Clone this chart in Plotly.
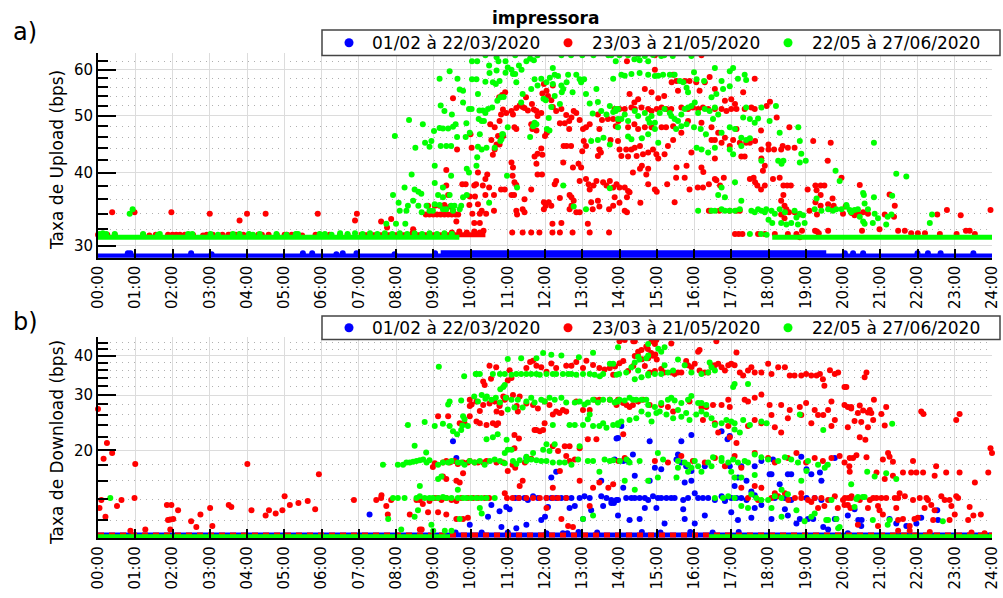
import math
import plotly.graph_objects as go

# ---------------------------------------------------------------- data
HOURS = list(range(25))
HOUR_LABELS = [f"{h:02d}:00" for h in HOURS]
SERIES_NAMES = ["01/02 à 22/03/2020", "23/03 à 21/05/2020", "22/05 à 27/06/2020"]
SERIES_COLORS = ["#0000ff", "#ff0000", "#00ff00"]

UP_TICKS = [30, 40, 50, 60]
UP_MINOR = [32, 34, 36, 38, 42, 44, 46, 48, 52, 54, 56, 58, 62, 64]
UP_RANGE = [28.6, 64.0]
DN_TICKS = [20, 30, 40]
DN_MINOR = [12, 14, 16, 18, 22, 24, 26, 28, 32, 34, 36, 38, 42, 44, 46]
DN_RANGE = [10.5, 46.0]

# dense runs of samples at a constant rate: (start hour, end hour, bps)
up_blue_runs = [(0.0, 24.0, 28.8), (9.2, 19.55, 29.15)]
up_red_runs = [(7.0, 10.4, 31.3)]
up_green_runs = [(0.0, 9.7, 31.0), (18.1, 24.0, 31.0)]
dn_blue_runs = [(0.0, 24.0, 10.75)]
dn_red_runs = [(0.0, 24.0, 10.75)]
dn_green_runs = [(0.0, 9.45, 10.62), (16.4, 24.0, 10.62)]

# individual samples: (hour, bps)
up_blue = [
    (0.8, 29.1), (0.87, 29.1), (2.5, 29.1), (3.05, 29.0), (5.5, 29.1), (5.75, 29.1),
    (6.4, 29.0), (6.57, 29.1), (6.94, 29.1), (7.96, 29.0), (9.05, 29.1), (20.05, 29.1),
    (20.27, 29.1), (20.54, 29.1), (22.0, 29.1), (22.28, 29.1), (22.62, 29.1), (23.5, 29.1),
]

up_red = [
    (0.0, 31.3), (0.25, 31.3), (0.45, 31.3), (1.21, 31.3), (1.38, 31.2), (1.55, 31.3),
    (1.88, 31.3), (2.0, 31.3), (2.1, 31.3), (2.2, 31.3), (2.33, 31.3), (2.45, 31.3),
    (2.55, 31.3), (2.82, 31.2), (2.92, 31.3), (3.08, 31.3), (3.34, 31.3), (3.5, 31.3),
    (3.55, 31.3), (3.62, 31.3), (3.7, 31.3), (3.78, 31.3), (3.9, 31.3), (4.07, 31.3),
    (4.3, 31.3), (4.4, 31.3), (4.58, 31.3), (4.8, 31.3), (5.01, 31.3), (5.07, 31.3),
    (5.2, 31.3), (5.3, 31.3), (5.48, 31.2), (5.84, 31.3), (5.97, 31.3), (6.08, 31.3),
    (6.22, 31.3), (6.5, 31.3), (6.7, 31.3),
    (0.38, 34.2), (0.98, 34.2), (1.97, 34.2), (3.0, 34.0), (3.8, 33.1), (4.0, 34.0),
    (4.5, 34.0), (5.9, 34.0), (6.9, 33.1), (6.95, 34.0),
    (9.5, 31.6), (9.7, 31.7), (9.9, 31.6), (10.1, 31.7), (10.25, 31.6), (10.35, 31.8),
    (7.6, 33.0), (7.87, 33.3), (7.76, 32.2), (8.46, 32.0), (8.44, 31.5),
    (8.86, 35.1), (9.04, 35.1), (9.17, 35.1), (9.3, 35.2), (9.45, 35.0),
    (8.8, 33.9), (8.9, 33.9), (9.0, 33.9), (9.1, 33.9), (9.2, 33.9), (9.3, 33.9),
    (9.4, 33.9), (9.5, 33.9), (9.6, 33.9), (9.67, 33.9),
    (9.35, 38.0), (9.4, 36.6), (9.35, 40.4), (9.53, 53.6), (9.64, 43.8), (9.53, 34.4),
    (9.62, 33.0), (9.78, 38.2), (9.87, 38.2), (10.0, 46.5), (10.03, 44.1), (10.1, 38.0),
    (10.15, 38.2), (9.98, 36.4), (10.12, 36.4), (9.97, 35.2), (10.2, 35.3), (10.05, 34.0),
    (10.25, 34.0), (10.42, 34.0), (10.3, 34.4), (10.1, 32.8), (10.25, 32.8),
    (10.2, 40.0), (10.4, 39.0), (10.45, 39.7), (10.5, 37.7), (10.33, 38.0), (10.63, 34.4),
    (10.63, 36.6), (10.4, 36.6), (10.56, 45.5), (10.7, 44.7), (10.78, 44.7), (10.6, 42.9),
    (10.65, 43.8), (10.53, 48.4), (10.65, 47.8), (10.78, 49.0), (10.74, 46.2), (10.88, 46.2),
    (10.82, 50.3), (10.87, 51.3), (10.96, 50.6), (10.93, 54.9), (10.77, 53.8), (10.85, 54.3),
    (11.1, 51.0), (11.14, 50.3), (11.18, 47.8), (11.23, 47.5), (11.23, 51.6), (11.32, 52.1),
    (11.4, 51.8), (11.49, 53.8), (11.45, 51.6), (11.54, 51.1), (11.65, 52.4), (11.7, 51.3),
    (11.77, 51.0), (11.9, 50.6), (11.8, 50.0), (11.63, 48.4), (11.66, 47.5), (11.77, 47.2),
    (12.0, 46.2), (12.05, 46.8),
    (12.21, 56.4), (12.04, 55.2), (11.97, 56.7), (11.93, 54.6), (12.08, 54.1), (12.17, 53.2),
    (12.21, 51.8), (12.3, 51.0), (12.44, 51.4), (12.57, 50.2), (12.4, 48.6), (12.53, 48.6),
    (12.65, 49.0), (12.71, 49.7), (12.65, 47.5), (12.77, 51.0), (12.84, 50.6), (12.93, 49.2),
    (13.02, 47.5), (13.1, 47.8), (13.2, 48.4), (13.42, 50.3), (13.46, 47.5), (13.53, 49.2),
    (13.69, 49.4), (13.83, 49.4), (13.9, 48.0), (13.76, 45.5), (13.46, 43.8), (13.42, 42.7),
    (13.5, 43.3), (13.04, 45.3), (13.1, 44.4), (13.0, 43.5),
    (11.1, 41.6), (11.14, 40.8), (11.13, 39.5), (11.18, 38.5), (11.23, 38.1), (11.1, 36.6),
    (11.17, 36.6), (10.92, 37.4), (10.82, 37.4),
    (11.4, 34.6), (11.45, 34.2), (11.23, 34.4), (11.25, 33.9), (11.45, 36.0), (11.63, 37.4),
    (11.8, 39.7), (11.77, 41.4), (11.8, 43.1), (11.9, 44.0), (11.93, 42.9), (11.72, 42.6),
    (11.92, 39.7), (11.97, 35.6), (12.02, 35.1), (11.97, 34.6), (12.1, 35.6), (12.17, 35.1),
    (12.2, 32.7), (12.26, 38.2), (12.3, 38.7), (12.4, 36.2), (12.44, 32.8), (12.4, 31.6),
    (12.2, 31.6), (11.85, 31.6), (11.63, 31.6), (11.4, 31.6), (11.12, 31.6), (12.5, 44.4),
    (12.49, 41.6), (12.58, 44.4), (12.7, 44.4), (12.75, 40.8), (12.9, 41.4), (12.97, 40.8),
    (12.93, 38.7), (13.1, 39.0), (13.17, 38.2), (13.3, 38.0), (13.2, 37.4), (13.38, 38.7),
    (13.56, 38.5), (13.65, 38.0), (13.74, 38.7), (13.83, 37.7), (13.92, 38.2), (12.66, 36.6),
    (12.71, 36.3), (12.77, 35.8), (12.71, 35.1), (12.66, 34.6), (12.84, 34.2), (12.93, 34.2),
    (13.24, 35.6), (13.28, 34.6), (13.42, 35.8), (13.46, 35.0), (13.72, 34.6), (13.83, 35.1),
    (13.15, 32.7), (13.2, 31.6), (12.74, 31.6), (13.72, 31.6),
    (13.87, 51.4), (14.0, 51.4), (14.14, 51.4), (14.32, 51.7), (14.41, 51.4), (14.59, 51.7),
    (14.77, 51.4), (14.86, 51.0), (15.0, 51.4), (15.13, 51.7), (15.26, 51.4), (15.39, 51.4),
    (15.66, 51.7), (15.84, 51.4), (15.97, 51.7), (16.11, 51.4), (16.24, 51.7), (16.38, 51.4),
    (16.56, 51.4), (16.74, 51.4), (16.87, 51.0), (17.0, 51.4), (17.14, 51.4), (17.36, 51.4),
    (17.54, 51.7), (17.63, 51.4),
    (14.27, 54.5), (14.4, 52.7), (14.5, 53.4), (14.68, 55.6), (14.86, 54.9), (15.04, 53.6),
    (15.2, 54.1), (15.4, 57.1), (15.44, 58.8), (15.53, 57.4), (15.57, 55.2), (15.75, 57.4),
    (15.88, 57.4), (16.06, 57.1), (16.15, 55.2), (16.29, 57.1), (16.42, 58.3), (16.56, 55.6),
    (16.83, 53.1), (17.0, 53.4), (17.32, 54.9), (17.1, 52.4), (17.63, 57.9), (18.04, 52.9),
    (18.22, 49.7), (17.95, 52.0), (14.95, 60.0), (16.2, 63.5), (14.95, 63.5), (14.2, 62.0),
    (13.97, 49.0), (14.23, 47.8), (14.4, 48.4), (14.5, 47.5), (14.68, 47.8), (14.86, 47.8),
    (15.13, 47.8), (15.25, 47.8), (15.44, 48.0), (15.44, 45.5), (15.66, 46.8), (15.84, 49.0),
    (16.2, 48.7), (16.47, 47.8), (16.65, 46.8), (16.47, 45.5), (16.56, 45.5), (16.74, 45.0),
    (16.83, 45.9), (16.96, 44.4), (17.05, 45.5), (17.14, 47.5), (17.23, 45.0), (17.4, 45.0),
    (17.5, 45.0), (17.64, 45.3), (17.8, 47.2), (17.81, 43.8), (18.0, 44.7), (18.0, 43.8),
    (18.15, 43.8), (18.34, 43.8), (18.38, 44.4), (18.52, 44.1), (18.7, 44.1), (18.56, 47.8),
    (19.2, 45.3), (19.67, 45.0), (19.59, 41.9),
    (13.96, 45.3), (14.0, 43.8), (14.05, 42.7), (14.18, 43.8), (14.23, 42.6), (14.32, 43.8),
    (14.41, 44.1), (14.46, 42.7), (14.55, 44.4), (14.63, 43.0), (14.77, 43.3), (14.9, 43.8),
    (14.99, 43.0), (15.21, 43.0), (15.3, 44.4),
    (14.36, 40.0), (14.55, 40.6), (14.77, 40.6), (14.72, 39.7), (14.6, 41.1), (15.04, 42.3),
    (15.53, 40.8), (15.8, 41.1), (15.75, 39.2), (15.93, 43.3), (16.2, 40.8), (16.25, 40.1),
    (16.56, 42.3), (17.27, 42.6), (17.36, 42.6), (17.81, 42.3), (17.85, 40.3), (17.9, 41.1),
    (17.5, 39.0), (17.6, 39.2), (17.64, 38.5), (17.7, 38.0), (17.8, 37.4), (17.9, 38.0),
    (18.12, 39.0), (18.3, 39.2), (18.4, 38.0), (18.5, 38.0), (18.6, 38.0), (18.4, 36.6),
    (18.34, 35.8), (18.43, 35.1), (18.48, 34.6), (18.55, 34.2), (18.34, 33.9), (18.43, 33.4),
    (18.7, 34.2), (18.83, 33.9), (19.05, 37.4), (19.26, 38.0), (19.4, 38.0), (19.5, 38.0),
    (19.4, 36.6), (19.26, 35.6), (19.4, 35.1), (19.6, 35.3), (19.75, 35.1), (19.66, 34.6),
    (20.0, 34.0), (20.28, 34.2), (19.1, 34.4), (19.3, 33.9), (19.6, 31.8), (19.25, 31.8),
    (18.9, 31.8), (19.29, 37.3), (19.72, 36.1), (19.96, 39.2), (20.07, 35.0), (20.23, 34.1),
    (14.0, 37.7), (14.14, 37.7), (14.23, 37.2), (14.27, 37.0), (14.2, 36.3), (13.87, 36.3),
    (14.0, 35.5), (14.14, 34.4), (14.2, 34.2), (14.56, 35.5), (14.77, 38.2), (14.95, 37.4),
    (15.0, 37.1), (15.28, 38.2), (15.52, 39.2), (15.48, 35.6), (15.88, 37.4), (16.1, 37.7),
    (16.24, 37.7), (16.4, 38.2), (16.56, 39.0), (16.6, 38.8), (16.7, 38.0), (16.8, 39.2),
    (16.4, 34.4), (16.45, 34.4), (16.68, 34.4), (16.96, 34.4), (17.14, 34.4), (17.23, 34.4),
    (17.1, 31.4), (17.2, 31.4), (17.3, 31.4), (17.72, 31.4), (17.9, 31.4), (18.17, 31.4),
    (18.52, 31.4), (18.75, 31.4), (18.84, 31.0), (19.3, 31.7), (19.35, 31.5),
    (20.45, 38.1), (20.22, 34.2), (20.31, 33.8), (20.4, 34.0), (20.54, 34.2), (20.67, 34.0),
    (20.51, 31.8), (20.98, 32.0), (21.12, 33.9), (21.25, 36.7), (21.39, 35.1), (21.37, 33.6),
    (21.48, 31.8), (21.66, 31.8), (21.83, 31.5), (22.01, 31.5), (22.2, 31.5), (22.6, 31.4),
    (23.05, 31.4), (23.3, 31.8), (23.4, 31.8), (23.54, 31.4), (22.53, 33.9), (22.79, 34.5),
    (23.16, 33.8), (23.96, 34.5),
]

up_green = [
    (0.04, 31.4), (0.13, 31.5), (0.22, 31.4), (0.45, 31.4), (1.21, 31.4), (1.61, 31.3),
    (1.66, 31.4), (2.42, 31.4), (2.53, 31.4), (3.02, 31.4), (3.22, 31.3), (3.62, 31.4),
    (3.8, 31.4), (4.05, 31.4), (4.16, 31.3), (4.34, 31.4), (4.79, 31.4), (5.06, 31.3),
    (5.31, 31.4), (5.37, 31.4), (5.95, 31.4), (6.09, 31.4), (6.27, 31.3),
    (0.85, 34.0), (0.93, 34.6),
    (6.5, 31.5), (6.7, 31.4), (6.9, 31.5), (7.1, 31.4), (7.3, 31.5), (7.5, 31.4),
    (7.7, 31.5), (7.9, 31.4), (8.1, 31.5), (8.3, 31.4), (8.5, 31.5), (8.7, 31.4),
    (8.9, 31.5), (9.1, 31.4), (9.3, 31.5), (9.5, 31.4),
    (7.97, 46.2), (8.35, 49.2), (8.72, 48.4), (8.52, 44.1), (8.78, 45.0), (8.95, 45.3),
    (8.9, 44.3), (8.42, 39.7), (8.23, 37.7), (7.92, 36.6), (8.5, 37.4), (8.6, 37.1),
    (8.68, 36.8),
    (8.07, 35.5), (8.32, 35.1), (8.1, 34.4), (8.28, 34.4), (8.46, 35.8), (8.6, 35.1),
    (8.69, 34.2), (8.82, 35.1), (8.9, 34.4), (8.99, 34.4), (9.04, 35.3), (9.17, 35.2),
    (9.26, 34.6), (9.35, 34.6), (9.48, 35.1), (9.57, 35.1), (9.71, 34.6), (9.75, 35.1),
    (9.53, 34.4), (9.44, 36.6), (9.26, 36.3), (9.13, 36.6),
    (7.74, 32.7), (8.0, 32.7), (8.25, 32.7),
    (9.04, 38.4), (9.04, 41.1), (9.02, 47.1), (9.17, 47.7), (9.26, 47.6), (9.4, 47.6),
    (9.53, 47.9), (9.6, 48.4), (9.64, 46.0), (9.2, 52.1), (9.2, 44.4), (9.35, 44.4),
    (9.48, 44.4),
    (9.44, 59.6), (9.17, 57.9), (9.65, 57.9), (9.71, 55.5), (9.8, 55.2), (9.8, 52.7),
    (9.3, 51.0), (9.5, 50.3),
    (9.89, 48.6), (9.98, 46.8), (9.87, 46.0), (9.9, 40.6), (9.96, 40.0), (9.48, 39.5),
    (9.26, 37.7), (9.8, 36.3), (9.9, 36.6),
    (9.96, 51.4), (10.03, 51.4), (10.2, 54.5), (10.04, 57.8), (10.16, 57.8), (10.04, 62.0),
    (10.18, 62.0), (10.4, 57.2), (10.51, 59.2), (10.7, 59.8), (10.5, 61.0), (10.7, 63.0),
    (10.4, 63.5), (10.75, 62.0), (10.94, 62.0), (10.94, 59.3), (11.1, 60.0), (11.2, 59.0),
    (11.37, 60.0), (11.23, 57.1), (11.0, 60.5),
    (10.22, 49.4), (10.3, 49.0), (10.36, 49.0), (10.24, 51.1), (10.33, 51.1), (10.47, 51.4),
    (10.4, 50.6), (10.58, 51.7), (10.72, 53.1), (10.8, 53.8), (10.89, 53.9), (10.68, 56.7),
    (10.6, 57.1), (10.78, 57.4),
    (10.25, 46.5), (10.3, 43.8), (10.18, 42.5), (10.2, 44.3), (10.16, 41.1), (10.43, 44.1),
    (10.65, 44.1), (10.8, 45.3), (10.85, 46.5), (10.83, 45.6), (11.0, 47.8), (10.98, 39.5),
    (11.25, 37.7), (10.5, 35.5),
    (11.4, 54.5), (11.36, 52.7), (11.63, 55.6), (11.72, 57.8), (11.8, 56.4), (11.9, 57.9),
    (12.04, 57.1), (12.13, 58.1), (12.21, 56.7), (12.21, 60.4), (12.26, 58.8), (12.35, 58.5),
    (12.44, 56.4), (12.49, 55.6), (12.58, 57.1), (12.62, 58.8), (12.74, 54.9), (12.84, 58.8),
    (12.93, 57.8), (12.97, 57.1), (13.05, 57.8), (13.1, 54.5), (13.38, 55.6), (13.2, 52.5),
    (13.28, 50.5), (13.42, 52.8), (13.51, 51.0), (13.65, 50.3), (13.74, 52.0), (13.83, 50.8),
    (13.9, 51.0), (13.83, 57.9), (13.78, 63.5), (13.7, 63.5), (13.0, 63.5), (13.3, 63.5),
    (12.7, 63.5), (12.44, 63.5), (11.8, 63.5), (11.7, 62.3), (11.6, 62.7), (11.5, 62.0),
    (11.2, 63.5), (11.14, 59.0), (11.3, 61.0),
    (12.02, 53.2), (11.96, 53.5), (12.17, 51.8), (12.26, 54.1), (12.4, 52.4), (12.45, 54.9),
    (12.1, 49.6), (12.05, 47.5), (12.12, 47.2), (11.77, 48.4), (11.68, 48.0), (11.72, 48.7),
    (11.6, 46.0), (10.87, 46.5),
    (12.49, 38.0), (12.77, 35.0), (13.1, 34.6), (13.74, 37.6), (13.24, 45.3), (13.42, 45.5),
    (13.57, 45.9), (13.74, 44.7), (13.96, 47.8), (13.96, 49.4), (13.9, 51.4),
    (14.0, 63.5), (14.23, 63.5), (14.5, 63.6), (14.68, 63.3), (14.9, 63.6), (15.12, 63.3),
    (15.2, 63.5), (15.43, 63.3), (15.93, 63.3), (13.9, 62.0), (14.4, 62.5), (14.77, 62.0),
    (14.54, 62.3),
    (14.05, 58.8), (14.14, 58.6), (14.32, 59.0), (14.54, 59.2), (14.77, 58.8), (14.95, 58.5),
    (15.04, 58.6), (15.17, 58.8), (15.35, 58.8), (15.48, 58.8), (15.62, 57.4), (15.71, 57.1),
    (15.8, 55.9), (15.84, 54.9), (16.0, 59.4), (16.07, 57.8), (16.27, 57.4), (16.56, 60.4),
    (16.96, 59.6), (17.05, 60.4), (17.18, 57.9), (17.36, 58.8), (17.4, 57.6), (16.74, 57.4),
    (16.96, 56.2), (16.78, 55.6), (16.6, 54.5), (16.47, 53.8),
    (13.96, 51.4), (14.05, 49.4), (14.23, 49.0), (14.14, 50.3), (14.41, 51.0), (14.5, 50.0),
    (14.68, 50.6), (14.77, 49.4), (14.86, 50.0), (14.95, 48.7), (15.08, 50.6), (15.21, 51.4),
    (15.35, 50.6), (15.39, 50.0), (15.48, 49.4), (15.57, 49.0), (15.66, 50.3), (15.75, 51.4),
    (15.84, 51.7), (15.93, 52.0), (16.02, 52.7), (16.11, 50.6), (16.29, 51.4), (16.42, 51.0),
    (16.56, 51.7), (16.51, 49.4), (16.65, 50.3),
    (14.23, 46.1), (14.32, 45.6), (14.6, 45.8), (14.77, 46.5), (15.04, 45.0), (14.95, 47.5),
    (14.81, 48.7), (15.52, 47.5), (15.66, 48.0), (15.8, 48.4), (16.0, 47.8), (16.18, 47.5),
    (16.32, 46.5), (16.07, 44.1), (16.2, 43.8), (16.38, 43.3), (16.56, 44.1), (16.74, 46.8),
    (16.96, 47.8), (17.1, 47.5), (17.27, 45.9), (17.4, 45.5), (17.5, 45.8), (16.96, 43.8),
    (17.05, 43.0), (17.27, 44.4), (17.63, 48.7), (17.72, 49.5), (17.81, 51.7), (17.32, 49.7),
    (17.4, 51.7), (17.5, 49.4), (18.03, 49.0), (18.2, 52.0), (17.81, 41.9), (18.26, 41.9),
    (18.3, 46.8), (18.84, 45.3), (18.8, 47.8), (18.88, 43.1), (19.0, 41.9), (18.4, 41.9),
    (18.84, 41.6), (18.35, 41.4), (19.8, 40.3), (19.91, 38.7), (20.56, 36.6), (19.29, 36.1),
    (17.1, 38.5), (16.74, 37.7), (16.83, 36.3), (17.27, 35.8), (16.65, 36.6),
    (16.11, 34.4), (16.47, 34.4), (16.56, 34.4), (16.74, 34.6), (16.83, 34.4), (16.96, 34.4),
    (17.1, 34.4), (17.23, 34.6), (17.54, 34.4), (17.63, 34.2), (17.72, 34.6), (17.81, 34.4),
    (17.9, 34.2), (17.94, 34.6), (18.08, 34.4), (18.17, 34.0), (18.3, 34.6), (18.44, 34.2),
    (18.7, 34.4), (18.84, 34.0), (18.93, 33.8), (19.24, 34.6), (19.42, 34.4), (19.6, 34.6),
    (19.73, 34.4), (19.82, 34.6), (19.96, 34.6), (20.1, 35.0), (20.22, 34.2),
    (18.0, 33.2), (18.1, 32.8), (18.34, 32.8), (18.48, 32.6), (18.61, 32.8), (18.79, 32.6),
    (18.97, 32.8), (18.75, 33.5),
    (17.5, 31.4), (17.8, 31.4), (17.95, 31.3),
    (20.09, 35.2), (20.18, 34.5), (20.31, 34.5), (20.4, 34.6), (20.67, 34.6), (20.58, 35.4),
    (20.54, 36.9), (20.83, 36.3), (20.83, 45.0), (20.45, 33.6), (20.54, 33.0), (20.58, 32.7),
    (20.8, 32.8), (20.85, 34.0), (20.94, 33.4), (21.16, 32.6), (21.2, 33.6), (21.3, 33.9),
    (21.32, 36.5), (21.43, 39.8), (21.7, 39.4), (22.33, 32.8), (22.39, 33.9),
]

dn_blue = [
    (7.29, 12.5), (9.53, 21.4), (9.62, 18.9), (11.5, 18.9), (12.17, 16.4), (12.3, 17.1),
    (13.51, 16.0), (13.92, 21.8),
    (11.2, 14.1), (11.3, 14.1), (11.45, 14.1), (11.54, 13.9), (11.68, 14.3), (11.81, 14.1),
    (12.04, 14.1), (12.17, 14.1), (12.3, 14.1), (12.44, 14.1), (12.57, 14.1), (12.71, 14.1),
    (12.93, 14.1), (13.06, 14.3), (13.2, 14.1), (13.51, 14.3), (13.65, 14.1), (13.78, 13.9),
    (13.92, 13.9),
    (10.96, 13.2), (10.56, 13.4), (10.78, 12.8), (11.05, 13.0), (11.23, 11.3), (10.83, 11.4),
    (10.47, 12.3), (9.98, 11.6), (11.9, 12.0), (12.0, 12.3), (12.08, 13.2), (12.66, 13.1),
    (12.8, 13.3), (13.02, 12.1), (13.24, 12.9), (13.56, 13.3), (13.78, 13.6), (13.85, 13.6),
    (11.5, 11.6), (12.48, 10.9), (12.6, 10.9), (12.04, 10.9),
    (14.05, 23.9), (13.96, 21.9), (14.81, 21.4), (15.66, 21.4), (15.93, 22.4), (16.74, 23.0),
    (16.96, 22.2), (16.9, 21.7), (13.87, 18.7), (14.23, 18.5), (14.36, 19.4), (14.1, 18.5),
    (14.95, 17.6), (15.12, 17.4), (15.53, 18.7), (15.57, 19.4), (15.66, 18.3), (15.79, 17.8),
    (15.93, 17.2), (16.29, 17.8), (16.96, 17.8), (17.27, 17.8), (17.63, 17.8), (17.81, 18.5),
    (18.08, 16.8), (18.12, 18.7), (18.88, 19.1), (19.02, 17.4), (19.15, 16.8), (19.78, 18.9),
    (14.41, 16.6), (14.1, 15.2), (14.81, 16.0), (15.75, 15.8), (15.93, 16.0), (17.18, 16.4),
    (17.09, 15.4), (17.41, 16.0), (17.54, 14.8), (18.03, 16.8), (18.3, 15.6), (18.52, 16.8),
    (18.61, 16.8), (19.38, 17.0), (19.42, 16.0),
    (13.96, 13.9), (14.18, 14.1), (14.32, 14.1), (14.41, 14.1), (14.54, 14.1), (14.68, 14.1),
    (14.77, 13.9), (14.9, 14.3), (15.03, 14.1), (15.12, 14.1), (15.26, 14.1), (15.39, 14.1),
    (15.48, 14.1), (15.71, 13.9), (15.84, 14.1), (16.02, 14.6), (16.11, 14.1), (16.24, 14.1),
    (16.38, 14.1), (16.56, 13.9), (16.74, 14.3), (16.83, 13.9), (17.0, 14.1), (17.14, 14.1),
    (17.27, 14.1), (17.41, 13.9), (17.63, 14.4), (18.17, 14.1), (18.44, 14.1), (18.61, 13.9),
    (19.02, 14.1), (19.24, 14.1), (19.42, 13.9),
    (13.96, 12.4), (14.27, 12.0), (14.54, 12.1), (14.68, 13.1), (14.99, 13.1), (15.21, 11.7),
    (15.71, 13.0), (15.75, 12.1), (16.02, 11.7), (16.29, 12.4), (16.83, 13.8), (17.0, 12.7),
    (17.18, 12.0), (17.54, 12.2), (17.63, 13.1), (17.81, 13.4), (18.08, 12.1), (18.44, 13.0),
    (18.52, 12.4), (18.75, 11.7), (18.84, 12.1), (19.06, 12.1), (19.2, 12.1), (19.47, 11.4),
    (19.6, 11.2), (19.78, 12.1), (19.82, 12.1), (20.13, 12.4),
    (20.31, 13.0), (20.41, 12.0), (20.5, 12.0), (20.49, 11.5), (21.25, 12.1), (21.43, 11.7),
    (21.7, 11.5), (21.97, 11.7), (22.1, 12.2), (22.53, 12.9), (22.55, 12.0), (20.13, 10.9),
    (9.6, 10.95), (10.3, 10.95), (11.0, 10.95), (12.9, 11.0), (13.4, 10.95), (14.6, 11.0),
    (15.1, 10.95), (15.9, 11.0), (16.5, 10.95), (17.2, 11.0),
]

dn_red = [
    (0.0, 27.1), (0.04, 13.1), (0.09, 13.9), (0.15, 18.8), (0.24, 21.1), (0.38, 19.6),
    (0.2, 12.3), (0.51, 13.3), (0.63, 13.9), (0.87, 11.1), (0.98, 14.1), (1.0, 18.1),
    (1.27, 11.2), (1.85, 13.4), (1.88, 12.0), (1.94, 12.05), (1.97, 13.4), (2.02, 12.1),
    (1.94, 11.2), (2.15, 12.9), (2.5, 11.9), (2.64, 11.4), (2.75, 12.5), (3.01, 13.1),
    (3.07, 11.5), (3.51, 13.4), (3.58, 13.2), (4.01, 18.1), (4.12, 12.9), (4.5, 12.4),
    (4.59, 12.9), (4.77, 12.6), (4.95, 12.9), (5.01, 14.3), (5.15, 13.4), (5.38, 13.6),
    (5.63, 13.8), (5.83, 13.0), (5.93, 16.8), (6.87, 13.9), (7.47, 13.9), (7.61, 14.4),
    (7.6, 14.1), (7.87, 13.9), (7.74, 13.3), (7.78, 12.5), (8.37, 12.5),
    (8.55, 13.9), (8.64, 13.9), (8.72, 13.5), (8.9, 13.8), (9.04, 14.1), (9.13, 14.1),
    (9.22, 13.9), (9.35, 14.1), (9.49, 13.9), (9.62, 13.8), (9.75, 14.1), (9.93, 14.1),
    (10.07, 14.1), (10.2, 14.1), (10.38, 14.1), (10.5, 14.1), (11.13, 14.1), (11.3, 14.1),
    (11.5, 14.1), (11.68, 14.1), (11.86, 14.1), (12.04, 14.1), (12.21, 14.1), (12.35, 14.1),
    (12.57, 14.1),
    (8.86, 12.7), (9.13, 12.7), (9.35, 12.5), (9.62, 12.1), (9.8, 12.1), (9.93, 12.2),
    (8.64, 11.2), (8.69, 11.2), (8.99, 17.7), (9.13, 25.7), (9.4, 25.7),
    (9.04, 18.2), (9.26, 18.3), (9.35, 18.5), (9.44, 18.3), (9.57, 18.5), (9.66, 18.1),
    (9.8, 18.3), (9.93, 18.3), (9.98, 18.5), (10.11, 18.3), (10.2, 18.3), (10.34, 18.3),
    (10.43, 18.5),
    (9.26, 16.5), (9.35, 16.2), (9.62, 16.0), (9.71, 15.8), (9.8, 16.9), (9.98, 27.7),
    (10.03, 28.0), (10.25, 26.7), (10.34, 33.1), (10.38, 32.3), (10.51, 37.2), (10.69, 36.8),
    (10.55, 33.8), (10.78, 27.7), (10.7, 26.6), (10.74, 24.4), (10.83, 26.3), (10.88, 29.7),
    (10.92, 29.0), (11.0, 33.4), (11.1, 34.0), (11.05, 36.0), (11.24, 27.7), (11.27, 26.6),
    (11.18, 22.4), (11.18, 20.3), (11.3, 21.8), (11.0, 17.2), (11.13, 18.0), (11.2, 17.6),
    (11.4, 16.0), (11.32, 15.4), (10.98, 14.1), (10.92, 14.6), (10.88, 18.3), (10.7, 18.3),
    (11.46, 18.3),
    (11.5, 36.6), (11.6, 38.2), (11.68, 38.6), (11.77, 37.2), (11.9, 36.8), (12.04, 35.6),
    (12.17, 37.8), (12.3, 36.6), (12.57, 37.2), (12.71, 37.2), (12.84, 38.2), (13.02, 36.6),
    (13.11, 38.6), (13.29, 37.4), (13.46, 36.6), (13.6, 36.2), (13.74, 36.6), (13.83, 34.8),
    (13.88, 37.0),
    (9.98, 29.0), (10.16, 28.6), (10.34, 27.9), (10.51, 28.2), (10.65, 28.6), (10.78, 27.9),
    (10.96, 29.4), (11.14, 30.0), (11.32, 29.7), (11.5, 28.2), (11.68, 27.9), (11.81, 27.2),
    (11.99, 28.6), (12.12, 27.9), (12.3, 26.6), (12.48, 26.9), (12.57, 26.6), (12.84, 28.6),
    (13.02, 26.9), (13.2, 26.9), (13.33, 29.0), (13.46, 29.0), (13.74, 29.0), (13.92, 27.9),
    (9.71, 24.4), (9.84, 24.4), (9.98, 25.7), (10.16, 24.7), (10.25, 24.4), (10.43, 24.1),
    (10.6, 24.4), (10.69, 24.1), (11.72, 23.2), (11.86, 23.0), (11.99, 24.4), (12.21, 26.0),
    (12.39, 26.3),
    (12.04, 13.1), (12.21, 15.2), (12.4, 17.2), (12.44, 12.1), (12.62, 11.5), (12.75, 11.4),
    (12.93, 16.0), (13.2, 13.3), (13.29, 15.2), (13.46, 15.8), (13.7, 15.2), (13.83, 15.6),
    (11.95, 23.2), (11.77, 23.2), (12.21, 20.6), (12.35, 19.9), (12.53, 20.6), (12.66, 20.6),
    (12.93, 20.3), (12.8, 18.7), (12.66, 18.5), (12.57, 19.2), (13.15, 21.7), (13.38, 21.7),
    (11.63, 18.8),
    (14.0, 44.5), (14.37, 44.5), (14.14, 44.9), (14.41, 44.5), (14.5, 41.2), (14.59, 41.7),
    (14.72, 42.8), (14.86, 44.5), (14.95, 43.6), (14.99, 44.9), (15.39, 43.8), (16.11, 41.2),
    (16.15, 41.7), (16.6, 44.5), (17.14, 41.0), (14.76, 42.0), (14.85, 40.8), (14.9, 40.0),
    (14.96, 40.4), (15.0, 38.9),
    (14.0, 37.9), (14.1, 38.5), (14.23, 35.8), (14.37, 37.1), (14.41, 39.9), (14.5, 39.9),
    (14.6, 39.0), (14.68, 37.1), (14.77, 39.3), (14.81, 35.4), (14.95, 35.8), (15.12, 36.3),
    (15.2, 35.4), (15.39, 35.4), (15.48, 35.0), (15.57, 35.4), (15.66, 35.4), (15.79, 38.5),
    (15.84, 37.3), (15.93, 36.8), (16.02, 37.7), (16.15, 35.9), (16.29, 35.4), (16.38, 35.4),
    (16.47, 37.3), (16.56, 37.3), (16.65, 37.7), (16.74, 36.8), (16.83, 35.9), (16.92, 37.3),
    (17.0, 37.7), (17.09, 37.3), (17.23, 35.4), (17.32, 34.6), (17.45, 35.9), (17.54, 36.8),
    (17.63, 35.4), (17.81, 35.4), (17.99, 37.7), (18.08, 35.0), (18.26, 36.8), (18.44, 36.8),
    (18.57, 34.6), (18.7, 34.6), (18.88, 34.6), (19.01, 35.0), (19.15, 34.6), (19.29, 34.6),
    (19.38, 35.0), (19.46, 33.7), (19.5, 32.1), (19.65, 36.0), (19.78, 35.0), (19.87, 35.4),
    (20.04, 31.8),
    (13.96, 29.0), (14.1, 28.3), (14.19, 27.9), (14.27, 27.5), (14.36, 27.9), (14.5, 28.6),
    (14.63, 29.0), (14.81, 27.9), (15.12, 27.9), (15.3, 27.5), (15.44, 26.6), (15.88, 28.6),
    (16.2, 27.5), (16.33, 27.5), (16.51, 27.9), (16.74, 27.9), (16.92, 29.0), (16.96, 27.5),
    (17.36, 29.0), (17.45, 28.6), (17.63, 29.4), (17.81, 30.1), (18.03, 27.9), (18.34, 27.9),
    (18.57, 26.9), (18.84, 27.5), (19.01, 28.3), (19.24, 26.9), (19.33, 25.9), (19.6, 26.9),
    (19.69, 28.6), (20.04, 27.9), (20.22, 27.5),
    (16.24, 25.0), (16.56, 24.4), (16.65, 22.8), (16.92, 23.9), (16.96, 22.0), (17.14, 21.1),
    (17.45, 23.9), (17.63, 25.0), (17.81, 24.4), (18.08, 25.9), (18.17, 23.7), (18.34, 22.8),
    (18.52, 25.3), (18.88, 25.9), (19.15, 24.4), (19.47, 25.9), (19.69, 23.9), (19.78, 25.0),
    (14.1, 22.5),
    (14.14, 18.9), (14.95, 18.5), (15.3, 18.3), (15.66, 19.2), (15.97, 18.5), (16.29, 18.3),
    (16.56, 18.9), (16.83, 17.8), (17.09, 19.2), (17.27, 17.6), (17.63, 19.6), (17.99, 18.9),
    (18.17, 18.3), (18.52, 18.9), (18.75, 19.6), (19.01, 18.3), (19.24, 18.9), (19.46, 18.5),
    (19.69, 18.9), (19.91, 19.2), (20.04, 18.3), (20.17, 17.8), (13.97, 18.5),
    (17.45, 14.1), (17.72, 13.9), (18.08, 14.1), (18.26, 14.3), (18.53, 13.9), (18.71, 14.1),
    (18.88, 14.1), (19.06, 13.9), (19.24, 14.1), (19.42, 14.1), (19.6, 13.9), (19.78, 14.3),
    (20.0, 13.9), (20.14, 14.1), (20.23, 14.3),
    (17.27, 15.2), (17.63, 15.4), (17.81, 15.2), (18.17, 14.6), (18.44, 14.6), (18.88, 14.6),
    (19.15, 13.7), (19.33, 13.1), (19.5, 13.3), (19.86, 13.1), (20.04, 13.4), (20.2, 13.1),
    (20.09, 31.8), (20.63, 35.4), (20.58, 34.2), (20.83, 29.0),
    (20.13, 27.5), (20.22, 27.2), (20.45, 27.8), (20.54, 26.8), (20.4, 26.3), (20.67, 26.4),
    (20.72, 26.9), (20.76, 26.3), (21.03, 26.1), (21.16, 27.5), (20.81, 25.0), (20.31, 24.8),
    (20.49, 24.6), (21.12, 24.0), (20.13, 23.7), (20.67, 23.7), (22.1, 26.6), (22.16, 26.1),
    (23.04, 25.0), (23.13, 26.1),
    (20.45, 22.0), (20.6, 21.6), (20.18, 18.9), (20.27, 18.9), (20.36, 19.3), (20.63, 19.0),
    (21.07, 18.7), (21.21, 19.6), (21.25, 19.1), (21.34, 18.4), (21.88, 18.5), (22.5, 17.8),
    (22.15, 17.0), (21.97, 17.0), (21.83, 17.0), (21.61, 17.0), (21.34, 16.6), (21.12, 16.2),
    (20.9, 17.0), (20.18, 17.1), (22.46, 16.6), (22.77, 17.0), (23.13, 17.0), (23.54, 15.8),
    (23.9, 17.0), (23.96, 20.3), (24.0, 19.6),
    (23.4, 13.2), (23.5, 12.4), (23.7, 12.5),
    (20.05, 14.1), (20.22, 14.1), (20.45, 13.9), (20.72, 13.9), (20.81, 14.1), (20.9, 14.1),
    (21.03, 14.1), (21.16, 14.1), (21.39, 14.1), (21.48, 14.1), (21.66, 14.3), (21.88, 13.9),
    (22.06, 14.1), (22.24, 14.1), (22.28, 13.9), (22.64, 14.3), (22.73, 13.9), (22.86, 13.9),
    (23.04, 14.3), (23.09, 14.1),
    (20.13, 13.4), (20.67, 13.1), (20.94, 13.3), (20.98, 12.9), (21.07, 12.5), (21.43, 13.1),
    (21.52, 14.6), (22.19, 13.1), (22.37, 13.4), (22.46, 12.9), (22.91, 13.3), (23.0, 12.5),
    (23.36, 12.0), (20.4, 11.6), (20.94, 11.5), (21.48, 12.0), (21.61, 12.1), (21.79, 11.5),
    (21.92, 12.1), (22.01, 12.2), (22.42, 12.0), (22.86, 12.0), (21.48, 11.1), (21.79, 11.1),
    (22.33, 11.0), (23.45, 10.95), (23.8, 10.9),
]

dn_green = [
    (0.33, 14.1),
    (7.65, 18.0), (8.05, 18.0), (8.19, 18.0), (8.28, 18.3), (8.37, 18.3), (8.46, 18.4),
    (8.55, 18.5), (8.64, 18.6), (8.73, 18.7), (8.82, 18.3), (8.9, 18.6), (9.13, 18.0),
    (9.26, 18.3), (9.4, 18.3), (9.49, 18.5), (9.66, 18.3), (9.75, 18.3), (9.84, 18.0),
    (9.98, 18.5), (10.11, 18.3), (10.25, 18.5), (10.38, 18.0), (10.52, 18.5), (10.65, 18.7),
    (10.79, 18.5), (10.92, 18.2), (11.14, 18.5), (11.32, 18.6), (11.5, 18.5), (11.63, 18.7),
    (11.77, 18.6), (11.9, 18.5), (12.04, 18.5), (12.21, 18.3), (12.39, 18.3), (12.53, 18.3),
    (12.71, 18.0), (12.89, 18.7), (13.15, 18.5), (13.29, 18.5), (13.6, 18.7), (13.74, 18.5),
    (8.81, 19.7), (9.13, 16.2), (9.22, 16.5),
    (7.92, 14.1), (8.05, 14.1), (8.23, 14.1), (8.55, 14.1), (8.64, 14.3), (8.77, 14.1),
    (8.9, 14.1), (8.99, 14.1), (9.13, 14.1), (9.26, 14.2), (9.35, 14.1), (9.49, 14.1),
    (9.66, 14.1), (9.8, 14.1), (9.89, 14.1), (10.02, 14.1), (10.16, 14.1), (10.29, 14.1),
    (10.43, 14.1), (10.65, 14.1),
    (8.32, 24.1), (8.5, 20.7), (8.77, 24.6), (9.04, 23.9), (9.15, 36.9), (9.26, 24.3),
    (9.44, 23.9), (9.4, 28.0), (9.44, 28.6), (9.75, 28.8), (9.53, 23.0), (9.64, 22.5),
    (9.75, 23.2), (9.78, 24.0), (9.93, 23.9), (9.84, 25.1), (9.8, 25.7), (9.83, 34.4),
    (10.14, 35.0), (10.25, 35.0), (10.1, 29.7), (10.2, 28.6), (10.3, 30.0), (10.4, 29.2),
    (10.44, 29.7), (10.56, 29.0), (10.68, 29.4), (10.79, 28.4), (10.88, 31.8), (10.92, 32.3),
    (10.8, 31.3), (10.95, 29.4), (11.0, 27.0), (11.1, 29.0), (11.18, 27.4), (11.27, 29.0),
    (11.4, 27.4), (11.5, 28.6), (11.63, 29.4), (11.72, 28.4), (11.9, 29.0), (11.99, 28.6),
    (12.12, 29.4), (12.26, 29.0), (12.44, 29.4), (12.57, 28.4), (12.8, 28.4), (12.93, 28.6),
    (13.06, 28.0), (13.15, 28.4), (13.29, 29.0), (13.42, 28.4), (13.56, 29.0), (13.74, 29.0),
    (13.87, 28.4), (13.96, 28.6),
    (10.16, 35.0), (10.6, 35.0), (10.79, 35.0), (10.92, 35.0), (11.1, 34.8), (11.23, 35.0),
    (11.36, 35.0), (11.5, 35.0), (11.63, 35.0), (11.77, 35.0), (11.86, 34.8), (12.04, 35.0),
    (12.21, 35.0), (12.3, 35.0), (12.48, 35.0), (12.62, 35.0), (12.71, 35.0), (12.84, 34.8),
    (13.02, 35.0), (13.2, 35.0), (13.33, 34.8), (13.47, 34.4), (13.56, 35.0), (13.74, 37.7),
    (13.83, 37.7), (13.92, 34.8),
    (11.95, 40.8), (12.17, 40.3), (12.44, 40.1), (12.91, 39.6), (13.29, 40.9), (11.77, 39.3),
    (11.36, 39.3), (11.0, 39.1),
    (10.43, 21.7), (10.6, 22.0), (10.73, 22.5), (10.92, 19.6), (11.0, 20.1), (11.1, 20.1),
    (10.97, 21.6), (11.23, 18.1), (11.5, 19.1), (11.68, 19.6), (11.95, 20.1), (12.04, 20.9),
    (12.12, 19.9), (12.21, 24.1), (12.26, 20.9), (12.66, 24.1), (12.8, 24.1), (12.93, 20.6),
    (13.02, 24.1), (13.15, 25.1), (13.2, 26.0), (13.29, 23.9), (13.46, 23.9), (13.56, 24.4),
    (13.65, 23.6), (13.83, 24.1), (13.96, 24.1), (13.46, 17.1), (13.83, 18.6), (13.29, 12.4),
    (13.02, 12.1), (10.25, 13.1), (10.3, 12.6),
    (7.79, 12.1), (8.14, 11.2), (8.95, 11.6), (9.0, 11.1), (9.31, 11.1), (9.49, 11.1),
    (8.59, 12.9), (8.64, 15.4), (8.5, 12.3), (9.66, 15.0), (9.71, 12.1),
    (13.96, 42.6), (14.77, 43.6), (15.04, 42.1), (15.21, 42.6), (15.12, 41.2), (14.77, 40.1),
    (14.72, 39.3), (14.54, 38.9), (14.5, 39.7), (14.41, 38.1), (14.32, 36.8), (14.5, 35.9),
    (14.77, 35.0), (14.95, 35.0), (15.12, 35.0), (15.3, 35.4), (15.44, 35.9), (15.21, 37.3),
    (15.57, 38.9), (15.75, 37.3), (15.93, 35.4), (16.2, 35.0), (16.38, 35.4), (16.42, 38.1),
    (16.47, 36.8), (16.56, 35.9), (17.09, 32.5), (17.45, 32.5), (17.05, 31.8), (13.99, 35.0),
    (14.18, 35.4), (14.41, 33.7), (14.59, 34.2), (14.77, 34.6),
    (13.92, 28.6), (14.0, 29.0), (14.14, 28.8), (14.27, 29.4), (14.36, 29.0), (14.45, 29.0),
    (14.59, 29.0), (14.72, 29.0), (14.77, 27.9), (14.95, 27.5), (15.12, 28.3), (15.3, 29.0),
    (15.39, 29.4), (15.48, 28.8), (15.66, 28.3), (15.84, 29.0), (15.93, 29.8), (16.11, 28.3),
    (16.2, 28.3), (16.33, 27.9),
    (13.96, 24.4), (14.05, 24.7), (14.27, 25.0), (14.45, 25.3), (14.59, 26.6), (14.77, 26.0),
    (14.86, 24.7), (14.99, 26.3), (15.08, 26.6), (15.26, 26.0), (15.44, 25.3), (15.57, 26.9),
    (15.66, 25.6), (15.79, 26.3), (15.88, 25.0), (16.06, 26.0), (16.2, 26.6), (16.33, 26.0),
    (16.47, 25.3), (16.56, 24.1), (16.74, 24.4), (16.87, 25.0), (17.0, 24.7), (17.09, 24.4),
    (17.09, 23.3), (17.23, 22.8), (17.32, 25.0), (17.5, 24.1), (17.81, 24.7), (17.95, 24.4),
    (18.84, 26.0), (19.47, 23.2),
    (14.01, 18.5), (14.19, 18.7), (14.27, 18.3), (14.54, 18.5), (15.03, 19.6), (15.17, 18.7),
    (15.57, 18.5), (15.75, 18.3), (15.84, 18.0), (16.02, 18.5), (16.38, 18.3), (16.51, 19.0),
    (16.74, 18.5), (16.92, 18.3), (17.05, 18.7), (17.18, 18.3), (17.36, 18.5), (17.45, 18.3),
    (17.63, 19.4), (17.81, 19.0), (17.99, 18.7), (18.26, 18.5), (18.44, 19.0), (18.61, 18.7),
    (18.79, 18.3), (19.06, 18.5), (19.33, 18.0), (19.51, 17.6), (19.02, 17.2), (19.59, 18.0),
    (14.14, 16.0), (14.77, 16.0), (14.41, 15.0), (15.03, 16.4), (15.53, 16.4), (15.84, 17.1),
    (15.57, 17.6), (15.93, 17.6), (16.11, 17.8), (16.2, 17.1), (16.47, 17.8), (16.74, 18.9),
    (17.0, 17.1), (17.09, 16.4), (17.27, 16.4), (17.63, 16.7), (18.35, 15.0), (18.88, 16.0),
    (16.56, 14.1), (16.78, 14.1), (16.92, 14.3), (17.09, 14.1), (17.54, 14.5), (17.67, 14.1),
    (17.81, 13.9), (17.99, 13.9), (18.17, 14.3), (18.35, 14.1), (18.52, 14.5), (19.69, 13.9),
    (17.27, 13.3), (17.45, 13.1), (18.08, 13.1), (18.35, 12.3), (18.75, 12.9), (18.97, 11.9),
    (19.15, 12.3), (19.24, 12.6), (19.6, 12.0), (19.82, 12.1), (19.87, 11.3), (19.55, 12.0),
    (19.91, 11.4),
    (21.32, 24.3), (20.65, 17.1), (20.85, 16.5), (21.16, 16.9), (21.43, 16.2), (20.22, 15.6),
    (20.36, 14.0), (20.4, 14.2), (20.53, 14.2), (20.58, 14.2), (20.31, 13.2), (20.8, 12.0),
    (21.25, 12.0), (21.2, 11.6), (22.68, 11.9),
]

# ---------------------------------------------------------------- helpers
FONT = "DejaVu Sans"
W, H = 1003, 598
PLOT_L, PLOT_R = 98, 992           # horizontal extent of both panels (px)
UP_TOP, UP_BOT = 53.3, 257.7       # vertical extent of panel a) (px)
DN_TOP, DN_BOT = 336.7, 538.3      # vertical extent of panel b) (px)

# legend boxes: (left, top, right, bottom) in px, entry symbol centres and text starts
LEGEND_BOXES = [(322, 30, 1000, 55.5), (322, 316, 1000, 339.5)]
LEGEND_SYMBOL_X = [349, 568, 788]
LEGEND_TEXT_X = [370, 590, 810]


def py(px):
    """Pixel row -> paper y fraction."""
    return 1 - px / H


def px_x(px):
    """Pixel column -> paper x fraction (relative to the plot area)."""
    return (px - PLOT_L) / (PLOT_R - PLOT_L)


def runs_xy(runs):
    xs, ys = [], []
    for x0, x1, v in runs:
        xs += [x0, x1, None]
        ys += [v, v, None]
    return xs, ys


fig = go.Figure()


def add_panel(runs_by_series, pts_by_series, xa, ya, red_dash=False):
    for i, (runs, pts) in enumerate(zip(runs_by_series, pts_by_series)):
        color = SERIES_COLORS[i]
        rx, ry = runs_xy(runs)
        fig.add_trace(go.Scatter(
            x=rx, y=ry, mode="lines", xaxis=xa, yaxis=ya, showlegend=False,
            line=dict(color=color, width=5,
                      dash="6px,5px" if (red_dash and i == 1) else "solid"),
            hoverinfo="skip"))
        fig.add_trace(go.Scatter(
            x=[p[0] for p in pts], y=[p[1] for p in pts], mode="markers",
            xaxis=xa, yaxis=ya, showlegend=False, cliponaxis=False,
            marker=dict(color=color, size=6, line=dict(width=0)),
            name=SERIES_NAMES[i]))


add_panel([up_blue_runs, up_red_runs, up_green_runs],
          [up_blue, up_red, up_green], "x", "y")
add_panel([dn_blue_runs, dn_red_runs, dn_green_runs],
          [dn_blue, dn_red, dn_green], "x2", "y2", red_dash=True)

xaxis_style = dict(
    range=[0, 24], tickmode="array", tickvals=HOURS, ticktext=HOUR_LABELS,
    tickangle=-90, ticks="inside", ticklen=9, tickwidth=2, tickcolor="black",
    showline=True, linecolor="black", linewidth=2, mirror=False,
    showgrid=True, gridcolor="#dcdcdc", gridwidth=1, zeroline=False,
    tickfont=dict(family=FONT, size=15, color="black"), domain=[0, 1],
)


def yaxis_style(rng, ticks, minor, top, bot):
    return dict(
        type="log", range=[math.log10(rng[0]), math.log10(rng[1])],
        tickmode="array", tickvals=ticks, ticktext=[str(t) for t in ticks],
        ticks="inside", ticklen=18, tickwidth=2, tickcolor="black",
        showline=True, linecolor="black", linewidth=2, mirror=False,
        showgrid=True, gridcolor="#dcdcdc", gridwidth=1, zeroline=False,
        minor=dict(tickmode="array", tickvals=minor, ticks="inside", ticklen=10,
                   tickwidth=1.5, tickcolor="black", showgrid=True,
                   gridcolor="#b0b0b0", griddash="1px,5px", gridwidth=1.2),
        tickfont=dict(family=FONT, size=15, color="black"),
        domain=[py(bot), py(top)],
    )


# legends drawn as boxed rows of coloured dots and labels
shapes, annotations = [], []
R = 4.5  # legend dot radius in px
for left, top, right, bottom in LEGEND_BOXES:
    shapes.append(dict(
        type="rect", xref="paper", yref="paper", layer="above",
        x0=px_x(left), x1=px_x(right), y0=py(bottom), y1=py(top),
        fillcolor="white", line=dict(color="#444444", width=1.5)))
    cy = (top + bottom) / 2
    for sx, tx, name, color in zip(LEGEND_SYMBOL_X, LEGEND_TEXT_X,
                                   SERIES_NAMES, SERIES_COLORS):
        shapes.append(dict(
            type="circle", xref="paper", yref="paper", layer="above",
            x0=px_x(sx - R), x1=px_x(sx + R), y0=py(cy + R), y1=py(cy - R),
            fillcolor=color, line=dict(width=0)))
        annotations.append(dict(
            text=name, x=px_x(tx), y=py(cy + 0.5), xref="paper", yref="paper",
            xanchor="left", yanchor="middle", showarrow=False,
            font=dict(family=FONT, size=17, color="black")))

annotations += [
    dict(text="<b>impressora</b>", x=0.5, y=py(18), xref="paper", yref="paper",
         xanchor="center", yanchor="middle", showarrow=False,
         font=dict(family=FONT, size=17)),
    dict(text="a)", x=px_x(25), y=py(32), xref="paper", yref="paper",
         xanchor="center", yanchor="middle", showarrow=False,
         font=dict(family=FONT, size=24)),
    dict(text="b)", x=px_x(25), y=py(322), xref="paper", yref="paper",
         xanchor="center", yanchor="middle", showarrow=False,
         font=dict(family=FONT, size=24)),
    dict(text="Taxa de Upload (bps)", x=px_x(57), y=py(160), xref="paper",
         yref="paper", xanchor="center", yanchor="middle", showarrow=False,
         textangle=-90, font=dict(family=FONT, size=17)),
    dict(text="Taxa de Download (bps)", x=px_x(57), y=py(443), xref="paper",
         yref="paper", xanchor="center", yanchor="middle", showarrow=False,
         textangle=-90, font=dict(family=FONT, size=17)),
]

fig.update_layout(
    width=W, height=H, autosize=False, showlegend=False,
    margin=dict(l=PLOT_L, r=W - PLOT_R, t=0, b=0, autoexpand=False),
    paper_bgcolor="white", plot_bgcolor="white",
    font=dict(family=FONT, color="black"),
    xaxis=dict(xaxis_style, anchor="y"),
    yaxis=yaxis_style(UP_RANGE, UP_TICKS, UP_MINOR, UP_TOP, UP_BOT),
    xaxis2=dict(xaxis_style, anchor="y2"),
    yaxis2=yaxis_style(DN_RANGE, DN_TICKS, DN_MINOR, DN_TOP, DN_BOT),
    shapes=shapes,
    annotations=annotations,
)

fig.write_html("out.html")
